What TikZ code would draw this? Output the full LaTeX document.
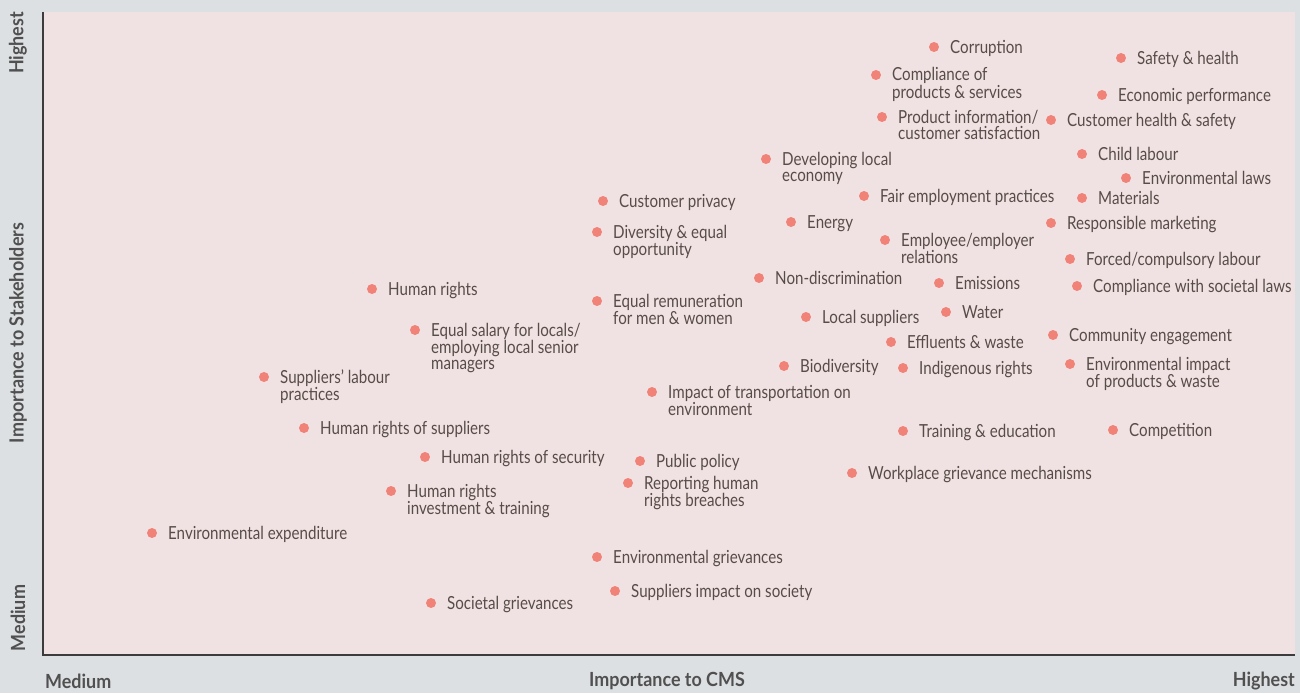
\documentclass[tikz,border=0pt]{standalone}
\usepackage{fontspec}
\setmainfont{Lato}[FakeStretch=0.84]
\newfontfamily\axfont{Lato}[FakeStretch=0.92]
\definecolor{bgc}{HTML}{DDE0E2}
\definecolor{pinkc}{HTML}{F0E2E2}
\definecolor{axisc}{HTML}{3C3C3C}
\definecolor{dotc}{HTML}{F08278}
\definecolor{txtc}{HTML}{574C47}
\definecolor{axlab}{HTML}{505050}
\newcommand\twol[2]{\vtop{\baselineskip=16pt\hbox{#1}\hbox{#2}}}
\newcommand\threel[3]{\vtop{\baselineskip=16pt\hbox{#1}\hbox{#2}\hbox{#3}}}
\newcommand\mpt[4]{\node[ptdot] (#1) at (#2,#3) {};\node[lab] (#1t) at ([xshift=16pt,yshift=-6pt]#1.center) {#4};}
\begin{document}
\begin{tikzpicture}[x=1pt,y=-1pt,
  ptdot/.style={circle, fill=dotc, inner sep=0pt, minimum size=10pt},
  lab/.style={anchor=base west, inner sep=0pt, text=txtc, font=\fontsize{18}{16}\selectfont},
  axl/.style={inner sep=0pt, text=axlab, font=\fontsize{19.5}{19}\axfont\bfseries}]
\fill[bgc] (0,0) rectangle (1300,693);
\useasboundingbox (0,0) rectangle (1300,693);
\fill[pinkc] (44,12) rectangle (1295,655);
\coordinate (top) at (43,12);
\coordinate (orig) at (43,655);
\coordinate (right) at (1295,655);
\draw[axisc, line width=2.5pt] (top) -- (orig) -- (right);
% axis labels
\node[axl, rotate=90] (ylh) at (18,43) {Highest};
\node[axl, rotate=90] (ylt) at (18,333) {Importance to Stakeholders};
\node[axl, rotate=90] (ylm) at (18,618) {Medium};
\node[axl, anchor=west] (xlm) at (45,681) {Medium};
\node[axl] (xlt) at (667,681) {Importance to CMS};
\node[axl, anchor=east] (xlh) at (1295,681) {Highest};
% points
\mpt{d1}{934}{47}{Corruption}
\mpt{d2}{1121}{58}{Safety \& health}
\mpt{d3}{876}{75}{\twol{Compliance of}{products \& services}}
\mpt{d4}{1102}{95}{Economic performance}
\mpt{d5}{882}{117}{\twol{Product information/}{customer satisfaction}}
\mpt{d6}{1051}{120}{Customer health \& safety}
\mpt{d7}{766}{159}{\twol{Developing local}{economy}}
\mpt{d8}{1082}{154}{Child labour}
\mpt{d9}{1126}{178}{Environmental laws}
\mpt{d10}{603}{201}{Customer privacy}
\mpt{d11}{864}{196}{Fair employment practices}
\mpt{d12}{1082}{198}{Materials}
\mpt{d13}{791}{222}{Energy}
\mpt{d14}{1051}{223}{Responsible marketing}
\mpt{d15}{597}{232}{\twol{Diversity \& equal}{opportunity}}
\mpt{d16}{885}{240}{\twol{Employee/employer}{relations}}
\mpt{d17}{1070}{259}{Forced/compulsory labour}
\mpt{d18}{759}{278}{Non-discrimination}
\mpt{d19}{939}{283}{Emissions}
\mpt{d20}{1077}{286}{Compliance with societal laws}
\mpt{d21}{372}{289}{Human rights}
\mpt{d22}{597}{301}{\twol{Equal remuneration}{for men \& women}}
\mpt{d23}{946}{312}{Water}
\mpt{d24}{806}{317}{Local suppliers}
\mpt{d25}{415}{330}{\threel{Equal salary for locals/}{employing local senior}{managers}}
\mpt{d26}{891}{342}{Effluents \& waste}
\mpt{d27}{1053}{335}{Community engagement}
\mpt{d28}{784}{366}{Biodiversity}
\mpt{d29}{903}{368}{Indigenous rights}
\mpt{d30}{1070}{364}{\twol{Environmental impact}{of products \& waste}}
\mpt{d31}{264}{377}{\twol{Suppliers’ labour}{practices}}
\mpt{d32}{652}{392}{\twol{Impact of transportation on}{environment}}
\mpt{d33}{304}{428}{Human rights of suppliers}
\mpt{d34}{903}{431}{Training \& education}
\mpt{d35}{1113}{430}{Competition}
\mpt{d36}{425}{457}{Human rights of security}
\mpt{d37}{640}{461}{Public policy}
\mpt{d38}{852}{473}{Workplace grievance mechanisms}
\mpt{d39}{628}{483}{\twol{Reporting human}{rights breaches}}
\mpt{d40}{391}{491}{\twol{Human rights}{investment \& training}}
\mpt{d41}{152}{533}{Environmental expenditure}
\mpt{d42}{597}{557}{Environmental grievances}
\mpt{d43}{615}{591}{Suppliers impact on society}
\mpt{d44}{431}{603}{Societal grievances}
\end{tikzpicture}
\end{document}
